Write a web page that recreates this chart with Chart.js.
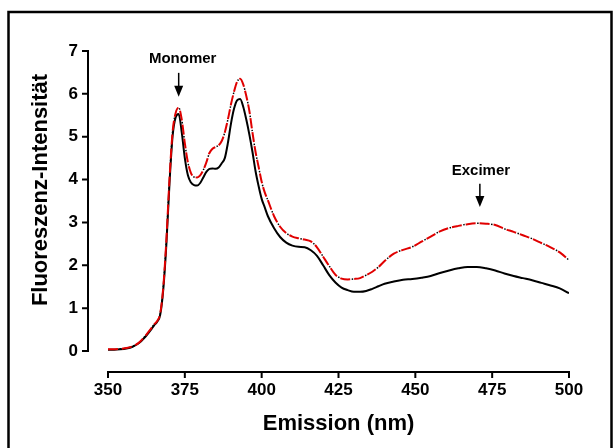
<!DOCTYPE html>
<html>
<head>
<meta charset="utf-8">
<title>Fluoreszenz</title>
<script src="https://cdn.jsdelivr.net/npm/chart.js@4.4.0/dist/chart.umd.min.js"></script>
<style>
    body { margin: 0; background: #fff; }
    #chart-wrap { width: 613px; height: 448px; }
</style>
</head>
<body>
<div id="chart-wrap"><canvas id="spectrum-chart" width="613" height="448"></canvas></div>
<script>
'use strict';

// Emission wavelengths (nm)
const wavelengths = [350, 352, 354, 356, 358, 360, 362, 364, 365, 366, 367, 368, 369, 370, 371, 372, 373, 374, 375, 376,
    377, 378, 379, 380, 381, 382, 383, 384, 385, 386, 387, 388, 389, 390, 391, 392, 393, 394, 395, 396, 397, 398, 399,
    400, 401, 402, 404, 406, 408, 410, 412, 414, 416, 418, 420, 422, 424, 426, 428, 430, 432, 434, 436, 438, 440, 443,
    446, 449, 452, 455, 458, 461, 464, 467, 470, 473, 476, 479, 482, 485, 488, 491, 494, 497, 500];

// solid black curve
const intensityBlack = [0.03, 0.03, 0.04, 0.06, 0.10, 0.18, 0.32, 0.50, 0.60, 0.68, 0.85, 1.45, 2.50, 3.90, 5.00, 5.45, 5.53, 5.10, 4.50, 4.10,
    3.93, 3.87, 3.86, 3.92, 4.05, 4.18, 4.25, 4.26, 4.25, 4.28, 4.38, 4.50, 4.85, 5.30, 5.65, 5.85, 5.88, 5.70, 5.40, 5.05, 4.65, 4.20, 3.85,
    3.55, 3.35, 3.15, 2.87, 2.66, 2.53, 2.46, 2.43, 2.42, 2.35, 2.22, 2.00, 1.77, 1.60, 1.48, 1.42, 1.38, 1.38, 1.40, 1.45, 1.51, 1.57, 1.62,
    1.66, 1.68, 1.71, 1.75, 1.82, 1.88, 1.93, 1.96, 1.96, 1.93, 1.88, 1.81, 1.75, 1.70, 1.65, 1.59, 1.53, 1.46, 1.35];

// red dashed curve
const intensityRed = [0.04, 0.04, 0.05, 0.07, 0.11, 0.19, 0.34, 0.52, 0.62, 0.70, 0.88, 1.50, 2.60, 4.00, 5.10, 5.55, 5.68, 5.40, 4.85, 4.40,
    4.15, 4.06, 4.05, 4.10, 4.22, 4.40, 4.62, 4.72, 4.76, 4.80, 4.90, 5.10, 5.40, 5.75, 6.05, 6.28, 6.35, 6.22, 5.95, 5.60, 5.10, 4.65, 4.30,
    3.95, 3.70, 3.52, 3.15, 2.90, 2.75, 2.67, 2.63, 2.60, 2.56, 2.42, 2.20, 1.98, 1.78, 1.69, 1.67, 1.68, 1.70, 1.77, 1.85, 1.96, 2.10, 2.27,
    2.36, 2.43, 2.55, 2.67, 2.79, 2.87, 2.92, 2.96, 2.98, 2.97, 2.94, 2.85, 2.78, 2.70, 2.62, 2.52, 2.42, 2.30, 2.12];

const xTicks = [350, 375, 400, 425, 450, 475, 500];
const yTicks = [0, 1, 2, 3, 4, 5, 6, 7];

// peak labels: text, wavelength of arrow
const peakLabels = ['Monomer', 'Excimer'];
const peakWavelengths = [373, 471];

const xTitle = 'Emission (nm)';
const yTitle = 'Fluoreszenz-Intensität';

const FONT = '"Liberation Sans", Arial, sans-serif';

function toPoints(values) {
    return wavelengths.map((w, i) => ({ x: w, y: values[i] }));
}

// Prism-style offset axes, frame, titles and arrows
const decorPlugin = {
    id: 'decor',
    afterDraw(chart) {
        const ctx = chart.ctx;
        const xs = chart.scales.x;
        const ys = chart.scales.y;
        const area = chart.chartArea;
        ctx.save();

        // outer frame
        ctx.strokeStyle = '#000';
        ctx.lineWidth = 2.5;
        ctx.strokeRect(8.5, 12, 603, 460);

        // y axis
        const axX = area.left - 20;
        ctx.lineWidth = 2;
        ctx.beginPath();
        ctx.moveTo(axX, ys.getPixelForValue(0) + 1);
        ctx.lineTo(axX, ys.getPixelForValue(7));
        yTicks.forEach(v => {
            const py = ys.getPixelForValue(v);
            ctx.moveTo(axX + 1, py);
            ctx.lineTo(axX - 6, py);
        });
        ctx.stroke();

        // x axis
        const axY = area.bottom + 21;
        ctx.beginPath();
        ctx.moveTo(xs.getPixelForValue(350) - 1, axY);
        ctx.lineTo(xs.getPixelForValue(500) + 1, axY);
        xTicks.forEach(v => {
            const px = xs.getPixelForValue(v);
            ctx.moveTo(px, axY - 1);
            ctx.lineTo(px, axY + 6);
        });
        ctx.stroke();

        // axis titles
        ctx.fillStyle = '#000';
        ctx.font = 'bold 22px ' + FONT;
        ctx.textAlign = 'center';
        ctx.textBaseline = 'middle';
        ctx.fillText(xTitle, (area.left + area.right) / 2, 424);
        ctx.save();
        ctx.translate(41, 190);
        ctx.rotate(-Math.PI / 2);
        ctx.fillText(yTitle, 0, 0);
        ctx.restore();

        // peak labels with arrows
        const labelY = [6.81, 4.2];
        const arrowTop = [6.49, 3.9];
        const arrowTip = [5.93, 3.36];
        ctx.font = 'bold 15px ' + FONT;
        peakLabels.forEach((label, i) => {
            const px = xs.getPixelForValue(peakWavelengths[i]);
            ctx.fillText(label, px + (i === 0 ? 4 : 1), ys.getPixelForValue(labelY[i]));
            const top = ys.getPixelForValue(arrowTop[i]);
            const tip = ys.getPixelForValue(arrowTip[i]);
            ctx.lineWidth = 1.5;
            ctx.beginPath();
            ctx.moveTo(px, top);
            ctx.lineTo(px, tip - 8);
            ctx.stroke();
            ctx.beginPath();
            ctx.moveTo(px - 4.5, tip - 11);
            ctx.lineTo(px + 4.5, tip - 11);
            ctx.lineTo(px, tip);
            ctx.closePath();
            ctx.fill();
        });

        ctx.restore();
    }
};

new Chart(document.getElementById('spectrum-chart'), {
    type: 'line',
    data: {
        datasets: [
            {
                // black dots between the red dashes
                data: toPoints(intensityRed),
                borderColor: '#000',
                borderWidth: 1.5,
                borderDash: [1.5, 12.5],
                borderDashOffset: 2.5,
                pointRadius: 0,
                cubicInterpolationMode: 'monotone',
                order: 1
            },
            {
                data: toPoints(intensityRed),
                borderColor: '#e00000',
                borderWidth: 2,
                borderDash: [10, 4],
                pointRadius: 0,
                cubicInterpolationMode: 'monotone',
                order: 2
            },
            {
                data: toPoints(intensityBlack),
                borderColor: '#000',
                borderWidth: 2,
                pointRadius: 0,
                cubicInterpolationMode: 'monotone',
                order: 3
            }
        ]
    },
    options: {
        responsive: false,
        animation: false,
        layout: {
            padding: { top: 51, right: 44, left: 0, bottom: 0 }
        },
        plugins: {
            legend: { display: false },
            tooltip: { enabled: false }
        },
        scales: {
            x: {
                type: 'linear',
                min: 350,
                max: 500,
                afterBuildTicks: scale => { scale.ticks = xTicks.map(v => ({ value: v })); },
                afterFit: scale => { scale.height = 97; },
                border: { display: false },
                grid: { display: false, drawTicks: false },
                ticks: {
                    padding: 29,
                    color: '#000',
                    maxRotation: 0,
                    font: { family: FONT, size: 17, weight: 'bold' }
                }
            },
            y: {
                min: 0,
                max: 7,
                afterBuildTicks: scale => { scale.ticks = yTicks.map(v => ({ value: v })); },
                afterFit: scale => { scale.width = 108; },
                border: { display: false },
                grid: { display: false, drawTicks: false },
                ticks: {
                    padding: 30,
                    color: '#000',
                    font: { family: FONT, size: 17, weight: 'bold' }
                }
            }
        }
    },
    plugins: [decorPlugin]
});
</script>
</body>
</html>
